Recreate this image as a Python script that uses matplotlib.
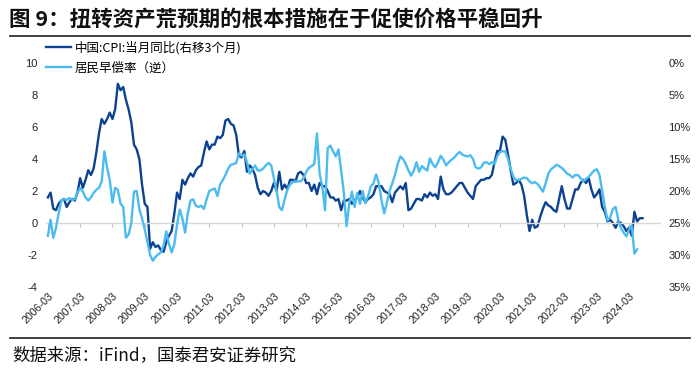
import matplotlib
matplotlib.use('Agg')
import matplotlib.pyplot as plt
from matplotlib.lines import Line2D
import numpy as np
import pandas as pd

plt.rcParams['font.family'] = ['Liberation Sans', 'Noto Sans CJK SC', 'DejaVu Sans']
plt.rcParams['axes.unicode_minus'] = False

# Category axis: months starting 2006-03
dates = pd.date_range('2006-03-01', periods=228, freq='MS')

# China CPI YoY (%), 2005-12 .. 2024-05, plotted shifted right by 3 months
cpi = [1.6,
       1.9, 0.9, 0.8, 1.2, 1.4, 1.5, 1.0, 1.3, 1.5, 1.4, 1.9, 2.8,
       2.2, 2.7, 3.3, 3.0, 3.4, 4.4, 5.6, 6.5, 6.2, 6.5, 6.9, 6.5,
       7.1, 8.7, 8.3, 8.5, 7.7, 7.1, 6.3, 4.9, 4.6, 4.0, 2.4, 1.2,
       1.0, -1.6, -1.2, -1.5, -1.4, -1.7, -1.8, -1.2, -0.8, -0.5, 0.6, 1.9,
       1.5, 2.7, 2.4, 2.8, 3.1, 2.9, 3.3, 3.5, 3.6, 4.4, 5.1, 4.6,
       4.9, 4.9, 5.4, 5.3, 5.5, 6.4, 6.5, 6.2, 6.1, 5.5, 4.2, 4.1,
       4.5, 3.2, 3.6, 3.4, 3.0, 2.2, 1.8, 2.0, 1.9, 1.7, 2.0, 2.5,
       2.0, 3.2, 2.1, 2.4, 2.1, 2.7, 2.7, 2.6, 3.1, 3.2, 3.0, 2.5,
       2.5, 2.0, 2.4, 1.8, 2.5, 2.3, 2.3, 2.0, 1.6, 1.6, 1.4, 1.5,
       0.8, 1.4, 1.4, 1.5, 1.2, 1.4, 1.6, 2.0, 1.6, 1.3, 1.5, 1.6,
       1.8, 2.3, 2.3, 2.3, 2.0, 1.9, 1.8, 1.3, 1.9, 2.1, 2.3, 2.1,
       2.5, 0.8, 0.9, 1.2, 1.5, 1.5, 1.4, 1.8, 1.6, 1.9, 1.7, 1.8,
       1.5, 2.9, 2.1, 1.8, 1.8, 1.9, 2.1, 2.3, 2.5, 2.5, 2.2, 1.9,
       1.7, 1.5, 2.3, 2.5, 2.7, 2.7, 2.8, 2.8, 3.0, 3.8, 4.5, 4.5,
       5.4, 5.2, 4.3, 3.3, 2.4, 2.5, 2.7, 2.4, 1.7, 0.5, -0.5, 0.2,
       -0.3, -0.2, 0.4, 0.9, 1.3, 1.1, 1.0, 0.8, 0.7, 1.5, 2.3, 1.5,
       0.9, 0.9, 1.5, 2.1, 2.1, 2.5, 2.7, 2.5, 2.8, 2.1, 1.6, 1.8,
       2.1, 1.0, 0.7, 0.1, 0.2, 0.0, -0.3, 0.1, 0.0, -0.2, -0.5, -0.3,
       -0.8, 0.7, 0.1, 0.3, 0.3]

# Household prepayment rate (%), 2006-03 onward (right axis, inverted)
prepay = [27.0, 24.5, 27.3, 25.8, 23.5, 21.5, 21.3, 21.4, 21.1, 21.4, 21.3, 20.3,
          19.5, 20.1, 21.0, 21.5, 21.0, 20.3, 19.8, 19.5, 18.5, 13.8, 16.3, 18.3,
          21.8, 19.5, 19.8, 22.0, 22.5, 27.3, 26.8, 25.0, 20.1, 20.0, 22.8, 24.3,
          26.0, 28.0, 30.0, 30.9, 30.3, 29.9, 29.6, 28.5, 26.3, 28.3, 29.6, 28.3,
          25.3, 22.9, 24.3, 26.5, 23.5, 21.5, 21.3, 22.3, 22.5, 22.3, 22.8, 21.3,
          20.0, 19.8, 19.6, 20.8, 19.0, 18.3, 17.5, 16.5, 15.9, 15.8, 15.6, 14.1,
          14.5, 14.3, 15.5, 17.3, 16.6, 16.0, 16.8, 16.8, 16.5, 16.0, 15.6, 16.0,
          18.0, 20.0, 22.5, 23.0, 21.3, 19.8, 19.0, 18.6, 18.5, 18.5, 18.5, 18.0,
          17.0, 16.4, 16.1, 15.8, 11.0, 17.3, 19.3, 23.0, 13.3, 12.9, 13.8, 14.6,
          13.5, 16.8, 20.3, 25.5, 22.0, 20.1, 22.5, 20.3, 22.0, 20.0, 21.9, 20.8,
          19.3, 18.8, 17.4, 18.8, 21.5, 23.5, 21.8, 20.0, 18.8, 17.5, 15.8, 14.6,
          15.0, 15.8, 16.8, 17.6, 16.8, 15.5, 17.0, 16.1, 16.5, 16.8, 14.9, 15.8,
          16.3, 15.5, 14.5, 15.1, 16.0, 15.5, 15.1, 14.8, 14.3, 13.9, 14.3, 14.5,
          14.6, 14.4, 15.0, 16.3, 16.5, 16.3, 15.6, 15.5, 15.8, 15.5, 15.8, 14.6,
          13.9, 13.8, 13.8, 15.0, 16.5, 17.8, 18.3, 18.3, 18.1, 17.9, 18.0, 18.5,
          18.8, 18.6, 18.9, 19.5, 20.1, 18.8, 17.3, 16.6, 16.3, 15.9, 16.1, 16.4,
          16.8, 17.3, 17.5, 17.9, 17.5, 17.5, 18.0, 18.5, 18.1, 17.8, 17.3, 16.8,
          16.6, 17.5, 19.9, 22.5, 24.6, 24.1, 22.8, 22.5, 24.5, 25.8, 26.5, 27.1,
          26.0, 25.4, 29.8, 29.1]

left_ticks = [-4, -2, 0, 2, 4, 6, 8, 10]
right_ticks = [0, 5, 10, 15, 20, 25, 30, 35]
label_1 = '中国:CPI:当月同比(右移3个月)'
label_2 = '居民早偿率（逆）'

DARK = '#0d4291'
LIGHT = '#4cbcf0'

fig = plt.figure(figsize=(7, 3.71), dpi=100)
ax = fig.add_axes([46/700, 1 - 287/371, 614/700, 224/371])
ax2 = ax.twinx()

l1, = ax.plot(np.arange(len(cpi)), cpi, color=DARK, lw=1.7, label=label_1)
l2, = ax2.plot(np.arange(len(prepay)), prepay, color=LIGHT, lw=1.7, label=label_2)

ax.set_xlim(-0.7, 227.5)
ax.set_ylim(-4, 10)
ax2.set_ylim(35, 0)

ax.set_yticks(left_ticks)
ax.set_yticklabels([str(v) for v in left_ticks])
ax2.set_yticks(right_ticks)
ax2.set_yticklabels([f'{v}%' for v in right_ticks])

for s in ['top', 'left', 'right']:
    ax.spines[s].set_visible(False)
for s in ['top', 'left', 'right', 'bottom']:
    ax2.spines[s].set_visible(False)
ax.spines['bottom'].set_position(('data', 0))
ax.spines['bottom'].set_color('#d9d9d9')
ax.spines['bottom'].set_linewidth(1.0)

xt = np.arange(0, 217, 12)
ax.set_xticks(xt)
ax.set_xticklabels([dates[i].strftime('%Y-%m') for i in xt])
ax.tick_params(axis='x', direction='out', length=3, width=0.8, color='#bfbfbf',
               pad=46, labelsize=7.7, labelcolor='#222222')
for t in ax.get_xticklabels():
    t.set_rotation(45)
    t.set_ha('right')
    t.set_va('top')
    t.set_rotation_mode('anchor')

ax.tick_params(axis='y', length=0, pad=6, labelsize=8, labelcolor='#222222')
ax2.tick_params(axis='y', length=0, pad=6, labelsize=8, labelcolor='#222222')

fig.legend(handles=[l1, l2], loc='upper left', bbox_to_anchor=(46/700, 1 - 41/371),
           frameon=False, handlelength=2.0, handletextpad=0.3,
           labelspacing=0.55, borderpad=0, borderaxespad=0,
           prop={'family': ['Noto Sans CJK SC', 'DejaVu Sans'], 'size': 9})

fig.text(9/700, 1 - 19/371, '图 9：扭转资产荒预期的根本措施在于促使价格平稳回升',
         fontsize=15.5, fontweight='bold', va='center', ha='left',
         family=['Noto Sans CJK SC', 'DejaVu Sans'], color='#111111')
fig.add_artist(Line2D([10/700, 690/700], [1 - 36/371, 1 - 36/371],
                      color='#333333', lw=1.3, transform=fig.transFigure))
fig.add_artist(Line2D([10/700, 690/700], [1 - 338/371, 1 - 338/371],
                      color='#333333', lw=1.3, transform=fig.transFigure))
fig.text(12/700, 1 - 355/371, '数据来源：iFind，国泰君安证券研究',
         fontsize=12.5, va='center', ha='left',
         family=['Noto Sans CJK SC', 'DejaVu Sans'], color='#111111')

fig.savefig('out.png', dpi=100)
